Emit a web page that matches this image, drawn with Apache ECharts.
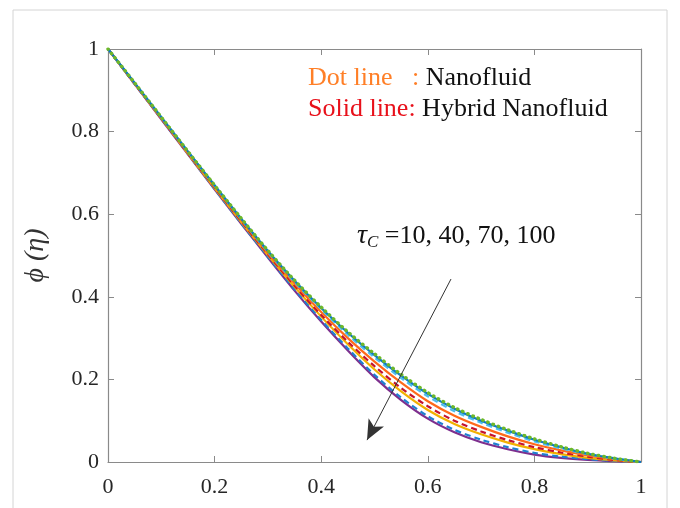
<!DOCTYPE html>
<html>
<head>
<meta charset="utf-8">
<script src="https://cdn.jsdelivr.net/npm/echarts@6/dist/echarts.min.js"></script>
<style>html,body{margin:0;padding:0;background:#fff;}#c{width:680px;height:508px;}</style>
</head>
<body>
<div id="c"></div>
<script>
// eta values
const eta = [0,0.05,0.1,0.15,0.2,0.25,0.3,0.35,0.4,0.45,0.5,0.55,0.6,0.65,0.7,0.75,0.8,0.85,0.9,0.95,1];
// Nanofluid (dot/dash lines)
const nano10  = [1,0.918,0.835,0.752,0.670,0.590,0.512,0.440,0.375,0.315,0.262,0.212,0.168,0.132,0.103,0.078,0.056,0.037,0.021,0.009,0];
const nano40  = [1,0.918,0.834,0.751,0.669,0.588,0.509,0.436,0.370,0.308,0.253,0.203,0.159,0.123,0.095,0.071,0.050,0.033,0.019,0.008,0];
const nano70  = [1,0.916,0.832,0.748,0.665,0.583,0.503,0.427,0.356,0.291,0.232,0.179,0.135,0.100,0.074,0.053,0.036,0.023,0.013,0.005,0];
const nano100 = [1,0.915,0.831,0.746,0.661,0.578,0.497,0.418,0.344,0.275,0.211,0.156,0.111,0.078,0.054,0.036,0.022,0.013,0.007,0.003,0];
// Hybrid nanofluid (solid lines)
const hyb10  = [1,0.918,0.835,0.752,0.670,0.589,0.511,0.439,0.373,0.313,0.259,0.209,0.165,0.129,0.100,0.076,0.054,0.036,0.020,0.009,0];
const hyb40  = [1,0.917,0.833,0.750,0.667,0.586,0.506,0.432,0.363,0.300,0.243,0.192,0.147,0.112,0.085,0.062,0.043,0.028,0.016,0.007,0];
const hyb70  = [1,0.916,0.832,0.747,0.663,0.581,0.501,0.424,0.352,0.285,0.224,0.171,0.126,0.092,0.067,0.047,0.031,0.019,0.010,0.004,0];
const hyb100 = [1,0.915,0.830,0.745,0.660,0.577,0.495,0.415,0.340,0.270,0.205,0.150,0.105,0.072,0.048,0.031,0.018,0.010,0.005,0.002,0];
// arrow annotation in data coords (start, end)
const arrowStart = [0.6435, 0.443];
const arrowEnd = [0.486, 0.053];

function pair(a){ return eta.map((e,i)=>[e,a[i]]); }
function solid(name, data, color){
  return {name, type:'line', data:pair(data), showSymbol:false, smooth:0.3,
    lineStyle:{color, width:2.2, type:'solid'}, itemStyle:{color}, animation:false};
}
function dashed(name, data, color, dash, w, cap){
  return {name, type:'line', data:pair(data), showSymbol:false, smooth:0.3,
    lineStyle:{color, width:w||2.2, type:dash||[6,4], cap:cap||'butt'}, itemStyle:{color}, animation:false};
}
const serif = '"Liberation Serif","Times New Roman",serif';
const axisColor = '#8a8a8a';
const labelStyle = {fontFamily:serif, fontSize:22, color:'#262626'};

const series = [
  solid('H100', hyb100, '#7E2F8E'),
  dashed('N100', nano100, '#1f7fd0'),
  solid('H70', hyb70, '#F2B000'),
  dashed('N70', nano70, '#C4122F'),
  solid('H40', hyb40, '#FF6A1A'),
  dashed('N40', nano40, '#4DBEEE'),
  solid('H10', hyb10, '#0a78c8'),
  dashed('N10', nano10, '#6DB82A', [0.5,5], 3.4, 'round')
];
series.push({
  type:'line', data:[[0,0],[1,1]], xAxisIndex:1, yAxisIndex:1, silent:true, animation:false,
  lineStyle:{opacity:0}, showSymbol:false,
  markLine:{silent:true, animation:false, symbol:['none','arrow'], symbolSize:[13,20],
    lineStyle:{color:'#333', width:1, type:'solid'}, label:{show:false},
    itemStyle:{color:'#000'},
    data:[[{coord:arrowStart, symbol:'none'},{coord:arrowEnd, symbol:'arrow'}]]}
});

const chart = echarts.init(document.getElementById('c'), null, {renderer:'canvas'});
chart.setOption({
  backgroundColor:'#fff',
  animation:false,
  grid:{left:108, right:39, top:49, bottom:46, containLabel:false, outerBoundsMode:'none'},
  xAxis:[
    {type:'value', min:0, max:1, interval:0.2, position:'bottom',
     axisLine:{show:true, onZero:false, lineStyle:{color:axisColor, width:1.2}},
     axisTick:{show:true, inside:true, length:6, lineStyle:{color:axisColor}},
     axisLabel:Object.assign({margin:14, formatter:v=>String(+v.toFixed(1))}, labelStyle),
     splitLine:{show:false},
     name:'η', nameLocation:'middle', nameGap:54,
     nameTextStyle:{fontFamily:serif, fontSize:24, color:'#262626', fontStyle:'italic'}},
    {type:'value', min:0, max:1, interval:0.2, position:'top',
     axisLine:{show:true, onZero:false, lineStyle:{color:axisColor, width:1.2}},
     axisTick:{show:true, inside:true, length:6, lineStyle:{color:axisColor}},
     axisLabel:{show:false}, splitLine:{show:false}}
  ],
  yAxis:[
    {type:'value', min:0, max:1, interval:0.2, position:'left',
     axisLine:{show:true, onZero:false, lineStyle:{color:axisColor, width:1.2}},
     axisTick:{show:true, inside:true, length:6, lineStyle:{color:axisColor}},
     axisLabel:Object.assign({margin:9, formatter:v=>String(+v.toFixed(1))}, labelStyle),
     splitLine:{show:false},
     name:'ϕ (η)', nameLocation:'middle', nameGap:58, nameRotate:90,
     nameTextStyle:{fontFamily:serif, fontSize:28, color:'#333', fontStyle:'italic'}},
    {type:'value', min:0, max:1, interval:0.2, position:'right',
     axisLine:{show:true, onZero:false, lineStyle:{color:axisColor, width:1.2}},
     axisTick:{show:true, inside:true, length:6, lineStyle:{color:axisColor}},
     axisLabel:{show:false}, splitLine:{show:false}}
  ],
  series: series,
  graphic:[
    {type:'rect', shape:{x:13, y:10, width:654, height:540}, style:{fill:'none', stroke:'#d4d4d4', lineWidth:1}, z:-10, silent:true},
    {type:'text', left:308, top:65, z:100, style:{
      text:'{o|Dot line   :}{k| Nanofluid}',
      rich:{o:{fontFamily:serif, fontSize:26, fill:'#FF7F27'}, k:{fontFamily:serif, fontSize:26, fill:'#111'}}}},
    {type:'text', left:308, top:96, z:100, style:{
      text:'{r|Solid line:}{k| Hybrid Nanofluid}',
      rich:{r:{fontFamily:serif, fontSize:26, fill:'#E8101A'}, k:{fontFamily:serif, fontSize:26, fill:'#111'}}}},
    {type:'text', left:357, top:222, z:100, style:{
      text:'{t|τ}{s|C}{k| =10, 40, 70, 100}',
      rich:{t:{fontFamily:serif, fontSize:28, fontStyle:'italic', fill:'#111'},
            s:{fontFamily:serif, fontSize:17, fontStyle:'italic', fill:'#111', verticalAlign:'bottom', padding:[14,0,0,0]},
            k:{fontFamily:serif, fontSize:26, fill:'#111'}}}}
  ]
});
</script>
</body>
</html>
